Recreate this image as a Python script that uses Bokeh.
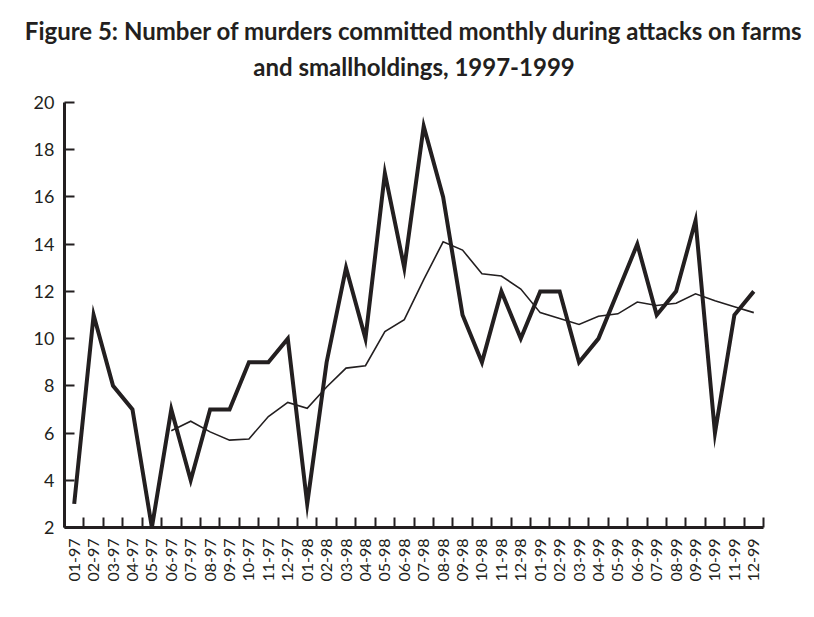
import math
from bokeh.plotting import figure
from bokeh.models import Range1d, FixedTicker, Title, BoxAnnotation
from bokeh.embed import file_html
from bokeh.resources import INLINE

# ---- data -----------------------------------------------------------
months = ["01-97", "02-97", "03-97", "04-97", "05-97", "06-97", "07-97", "08-97",
          "09-97", "10-97", "11-97", "12-97",
          "01-98", "02-98", "03-98", "04-98", "05-98", "06-98", "07-98", "08-98",
          "09-98", "10-98", "11-98", "12-98",
          "01-99", "02-99", "03-99", "04-99", "05-99", "06-99", "07-99", "08-99",
          "09-99", "10-99", "11-99", "12-99"]

murders = [3, 11, 8, 7, 2, 7, 4, 7, 7, 9, 9, 10,
           3, 9, 13, 10, 17, 13, 19, 16, 11, 9, 12, 10,
           12, 12, 9, 10, 12, 14, 11, 12, 15, 6, 11, 12]

trend_start = 5  # trend line begins at 06-97
trend = [6.1, 6.5, 6.05, 5.7, 5.75, 6.7, 7.3, 7.05, 7.95, 8.75, 8.85,
         10.3, 10.8, 12.5, 14.1, 13.75, 12.75, 12.65, 12.1, 11.1, 10.85,
         10.6, 10.95, 11.05, 11.55, 11.4, 11.5, 11.9, 11.6, 11.35, 11.1]

y_ticks = [2, 4, 6, 8, 10, 12, 14, 16, 18, 20]

title_line1 = "Figure 5: Number of murders committed monthly during attacks on farms"
title_line2 = "and smallholdings, 1997-1999"

INK = "#231f20"
LABEL_FONT = "Lato"
TITLE_FONT = "Lato"

n = len(months)
xs = list(range(n))
trend_xs = xs[trend_start:]

W, H = 813, 616

p = figure(width=W, height=H, x_range=Range1d(-0.5, n - 0.5),
           y_range=Range1d(2, 20),
           output_backend="svg", toolbar_location=None,
           min_border_left=64, min_border_right=50,
           min_border_top=102, min_border_bottom=89)

p.outline_line_color = None
p.xgrid.visible = False
p.ygrid.visible = False
p.background_fill_color = "white"
p.border_fill_color = "white"

# y axis
ya = p.yaxis[0]
ya.ticker = FixedTicker(ticks=y_ticks)
ya.axis_line_width = 3
ya.axis_line_color = INK
ya.major_tick_line_width = 2
ya.major_tick_line_color = INK
ya.major_tick_in = 10
ya.major_tick_out = 0
ya.minor_tick_line_color = None
ya.major_label_standoff = 10
ya.major_label_text_font = LABEL_FONT
ya.major_label_text_font_size = "18px"
ya.major_label_text_color = INK

# x axis: labels at month centres, tick marks at month boundaries
xa = p.xaxis[0]
xa.ticker = FixedTicker(ticks=xs, minor_ticks=[i - 0.5 for i in range(n + 1)])
xa.major_label_overrides = {i: m for i, m in zip(xs, months)}
xa.axis_line_width = 3
xa.axis_line_color = INK
xa.major_tick_line_color = None
xa.major_tick_in = 0
xa.major_tick_out = 0
xa.minor_tick_line_color = INK
xa.minor_tick_line_width = 2
xa.minor_tick_in = 10
xa.minor_tick_out = 0
xa.major_label_orientation = math.pi / 2
xa.major_label_standoff = 11
xa.major_label_text_font = LABEL_FONT
xa.major_label_text_font_size = "16px"
xa.major_label_text_color = INK

# lines
p.line(xs, murders, line_width=4, line_color=INK, line_join="miter")
p.line(trend_xs, trend, line_width=1.6, line_color=INK, line_join="miter")

# title (two centred lines), with a blank title as a spacer under them
pad = Title(text=" ", text_font=TITLE_FONT, text_font_size="13px", standoff=0)
p.add_layout(pad, "above")
t2 = Title(text=title_line2, align="center", vertical_align="top",
           text_font=TITLE_FONT, text_font_style="bold",
           text_font_size="24px", text_color=INK, standoff=4)
p.add_layout(t2, "above")
t1 = Title(text=title_line1, align="center", vertical_align="top",
           text_font=TITLE_FONT, text_font_style="bold",
           text_font_size="24px", text_color=INK, standoff=5)
p.add_layout(t1, "above")

# outer frame (left, top and right edges), in canvas pixels
frame_boxes = [(3, 6, 3, H), (3, W - 1, 3, 6), (W - 4, W - 1, 3, H)]
for (l, r, t, b) in frame_boxes:
    p.add_layout(BoxAnnotation(left=l, right=r, top=t, bottom=b,
                               left_units="canvas", right_units="canvas",
                               top_units="canvas", bottom_units="canvas",
                               fill_color=INK, fill_alpha=1.0,
                               line_color=None, level="overlay"))

open("out.html", "w").write(file_html(p, INLINE))
